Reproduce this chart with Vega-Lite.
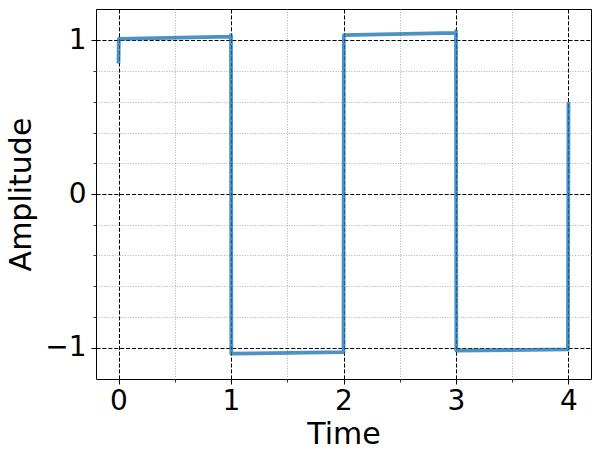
{
  "$schema": "https://vega.github.io/schema/vega-lite/v6.json",
  "width": 495,
  "height": 370,
  "autosize": "none",
  "padding": {"left": 96, "top": 9, "right": 10, "bottom": 82},
  "background": "white",
  "config": {
    "font": "DejaVu Sans",
    "view": {"stroke": "black", "strokeWidth": 1},
    "axis": {"labelFont": "DejaVu Sans", "titleFont": "DejaVu Sans", "labelColor": "black", "titleColor": "black", "titleFontWeight": "normal"}
  },
  "data": {
    "values": [
      {"i": 0, "t": 0.0, "a": 0.85},
      {"i": 1, "t": 0.003, "a": 1.01},
      {"i": 2, "t": 0.995, "a": 1.025},
      {"i": 3, "t": 1.0, "a": 1.035},
      {"i": 4, "t": 1.003, "a": -1.04},
      {"i": 5, "t": 1.995, "a": -1.03},
      {"i": 6, "t": 2.0, "a": -1.03},
      {"i": 7, "t": 2.003, "a": 1.035},
      {"i": 8, "t": 2.995, "a": 1.05},
      {"i": 9, "t": 3.0, "a": 1.06},
      {"i": 10, "t": 3.003, "a": -1.02},
      {"i": 11, "t": 3.995, "a": -1.012},
      {"i": 12, "t": 4.0, "a": 0.6}
    ]
  },
  "layer": [
    {
      "mark": {"type": "line", "opacity": 0},
      "encoding": {
        "x": {
          "field": "t", "type": "quantitative",
          "scale": {"domain": [-0.2, 4.2], "nice": false, "zero": false},
          "axis": {"orient": "bottom", "values": [0.5, 1.5, 2.5, 3.5], "labels": false, "title": null, "domain": false,
                   "ticks": true, "tickSize": 3, "tickColor": "black", "tickWidth": 0.8,
                   "grid": true, "gridColor": "#9a9a9a", "gridWidth": 0.8, "gridDash": [1, 1.6]}
        },
        "y": {
          "field": "a", "type": "quantitative",
          "scale": {"domain": [-1.205, 1.205], "nice": false, "zero": false},
          "axis": {"orient": "left", "values": [-0.8, -0.6, -0.4, -0.2, 0.2, 0.4, 0.6, 0.8], "labels": false, "title": null, "domain": false,
                   "ticks": true, "tickSize": 3, "tickColor": "black", "tickWidth": 0.8,
                   "grid": true, "gridColor": "#9a9a9a", "gridWidth": 0.8, "gridDash": [1, 1.6]}
        },
        "order": {"field": "i", "type": "quantitative"}
      }
    },
    {
      "mark": {"type": "line", "color": "#1f77b4", "opacity": 0.8, "strokeWidth": 3.8, "strokeJoin": "round", "strokeCap": "butt"},
      "encoding": {
        "x": {
          "field": "t", "type": "quantitative",
          "scale": {"domain": [-0.2, 4.2], "nice": false, "zero": false},
          "axis": {"orient": "bottom", "values": [0, 1, 2, 3, 4], "format": "d", "domain": false,
                   "labelFontSize": 28, "labelPadding": 3, "labelFlush": false, "labelOverlap": false,
                   "tickSize": 5, "tickColor": "black", "tickWidth": 1,
                   "grid": true, "gridColor": "black", "gridWidth": 1, "gridDash": [4.1, 1.8],
                   "title": "Time", "titleFontSize": 30, "titlePadding": 4}
        },
        "y": {
          "field": "a", "type": "quantitative",
          "scale": {"domain": [-1.205, 1.205], "nice": false, "zero": false},
          "axis": {"orient": "left", "values": [-1, 0, 1], "format": "d", "domain": false,
                   "labelExpr": "replace(datum.label, '-', '−')",
                   "labelFontSize": 28, "labelPadding": 5, "labelFlush": false, "labelOverlap": false,
                   "tickSize": 5, "tickColor": "black", "tickWidth": 1,
                   "grid": true, "gridColor": "black", "gridWidth": 1, "gridDash": [4.1, 1.8],
                   "title": "Amplitude", "titleFontSize": 30, "titlePadding": 8}
        },
        "order": {"field": "i", "type": "quantitative"}
      }
    }
  ],
  "resolve": {"axis": {"x": "independent", "y": "independent"}}
}
